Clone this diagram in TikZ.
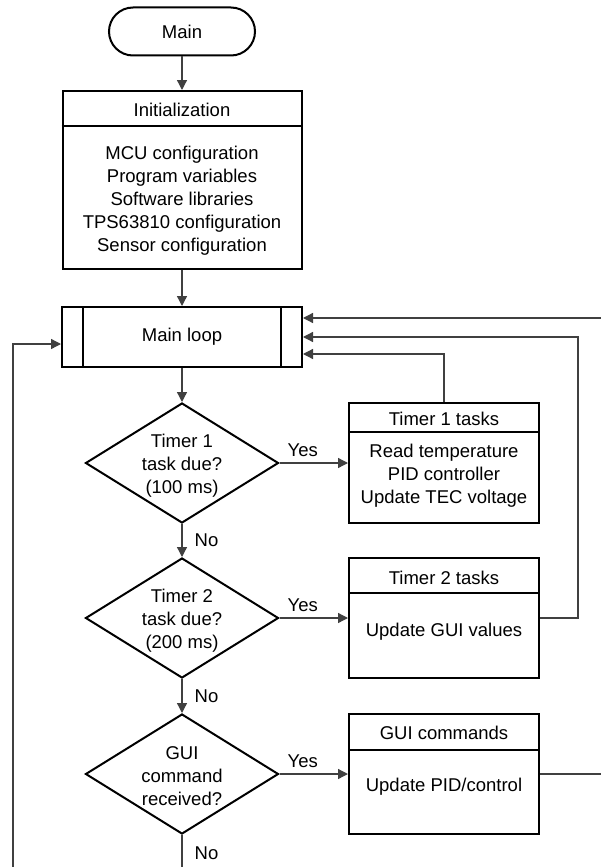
\documentclass[tikz,border=0pt]{standalone}
\usepackage{fontspec}
\setmainfont{Liberation Sans}
\usetikzlibrary{arrows.meta,shapes.geometric,calc}

\begin{document}
\begin{tikzpicture}[x=1pt,y=-1pt,
  font=\fontsize{18.5}{23}\selectfont,
  box/.style={draw=black,line width=2pt,inner sep=0pt,fill=white},
  rule/.style={draw=black,line width=2pt},
  dec/.style={box,diamond,minimum width=193pt,minimum height=120pt},
  conn/.style={draw=black!75,line width=1.3pt},
  arr/.style={conn,-{Triangle[length=10pt,width=10pt]}},
  lbl/.style={inner sep=0pt,align=center},
  yeslbl/.style={pos=0.34,above=6pt,inner sep=0pt},
  nolbl/.style={right=12pt,inner sep=0pt},
  ]
\useasboundingbox (0,0) rectangle (601,867);

% start terminal
\node[box,rounded corners=24pt,minimum width=146pt,minimum height=48pt] (main) at (182,31.5) {Main};

% initialization block
\node[box,minimum width=239pt,minimum height=178pt] (init) at (182,180) {};
\draw[rule] ($(init.north west)+(0,36)$) -- ($(init.north east)+(0,36)$);
\node[lbl] (initt) at (182,109.5) {Initialization};
\node[lbl] (initb) at (182,201) {MCU configuration\\Program variables\\Software libraries\\TPS63810 configuration\\Sensor configuration};

% main loop (predefined process)
\node[box,minimum width=240pt,minimum height=60pt] (loop) at (182,337) {Main loop};
\draw[rule] ($(loop.north west)+(22,0)$) -- ($(loop.south west)+(22,0)$);
\draw[rule] ($(loop.north east)+(-22,0)$) -- ($(loop.south east)+(-22,0)$);

% decisions
\node[dec] (d1) at (182,463) {};
\node[lbl] (d1t) at (182,465.5) {Timer 1\\task due?\\(100 ms)};
\node[dec] (d2) at (182,618) {};
\node[lbl] (d2t) at (182,620.5) {Timer 2\\task due?\\(200 ms)};
\node[dec] (d3) at (182,774) {};
\node[lbl] (d3t) at (182,776.5) {GUI\\command\\received?};

% task blocks
\node[box,minimum width=190pt,minimum height=120pt] (t1) at (444,463) {};
\draw[rule] ($(t1.north west)+(0,30)$) -- ($(t1.north east)+(0,30)$);
\node[lbl] (t1t) at (444,418.5) {Timer 1 tasks};
\node[lbl] (t1b) at (444,476) {Read temperature\\PID controller\\Update TEC voltage};

\node[box,minimum width=190pt,minimum height=120pt] (t2) at (444,618) {};
\draw[rule] ($(t2.north west)+(0,36)$) -- ($(t2.north east)+(0,36)$);
\node[lbl] (t2t) at (444,578) {Timer 2 tasks};
\node[lbl] (t2b) at (444,632) {Update GUI values};

\node[box,minimum width=190pt,minimum height=120pt] (gui) at (444,774) {};
\draw[rule] ($(gui.north west)+(0,37)$) -- ($(gui.north east)+(0,37)$);
\node[lbl] (guit) at (444,733) {GUI commands};
\node[lbl] (guib) at (444,787) {Update PID/control};

% free ends of the loop-back lines
\coordinate (lb) at (13,867);
\coordinate (rt) at (601,318);
\coordinate (rx) at (578,0);
\coordinate (gr) at (601,774);
\coordinate (bot) at (182,867);

% main flow
\draw[arr] (main.south) -- (main.south |- init.north);
\draw[arr] (init.south) -- (init.south |- loop.north);
\draw[arr] (loop.south) -- (d1.north);
\draw[arr] (d1.east) -- node[yeslbl] (y1) {Yes} (t1.west);
\draw[arr] (d1.south) -- node[nolbl] (n1) {No} (d2.north);
\draw[arr] (d2.east) -- node[yeslbl] (y2) {Yes} (t2.west);
\draw[arr] (d2.south) -- node[nolbl] (n2) {No} (d3.north);
\draw[arr] (d3.east) -- node[yeslbl] (y3) {Yes} (gui.west);
\draw[conn] (d3.south) -- node[nolbl,pos=0.58] (n3) {No} (bot);

% loop-back connectors
\draw[arr] (lb) |- ($(loop.west)+(0,7)$);
\draw[arr] (rt) -- (rt -| loop.east);
\draw[arr] (t2.east) -| (rx |- loop.east) -- (loop.east);
\draw[arr] (t1.north) |- ($(loop.east)+(0,17)$);
\draw[conn] (gui.east) -- (gr);
\end{tikzpicture}
\end{document}
